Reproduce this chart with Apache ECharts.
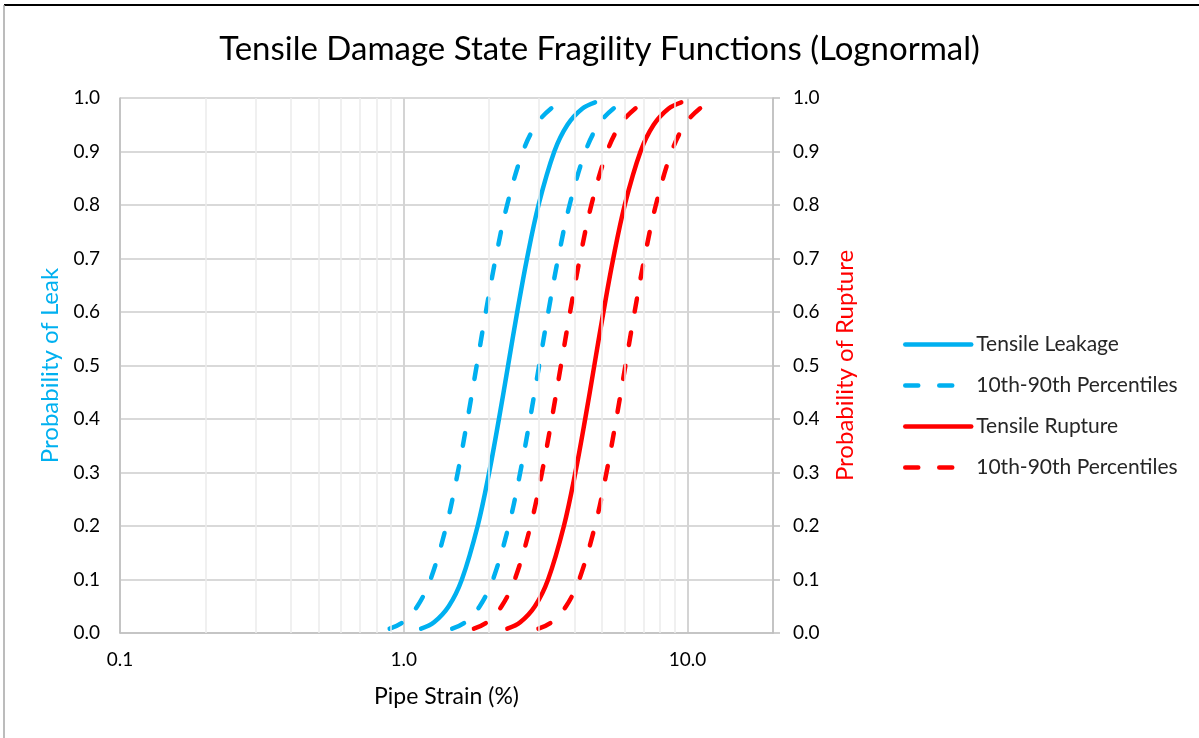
<!DOCTYPE html>
<html>
<head>
<meta charset="utf-8">
<title>Tensile Damage State Fragility Functions</title>
<script src="https://cdn.jsdelivr.net/npm/echarts@6/dist/echarts.min.js"></script>
<style>
  html, body { margin: 0; padding: 0; background: #ffffff; }
  #chart { width: 1199px; height: 738px; }
</style>
</head>
<body>
<div id="chart"></div>
<script>
// Cumulative probability levels shared by every curve
const probability = [0.008, 0.02, 0.05, 0.1, 0.2, 0.3, 0.4, 0.5, 0.6, 0.7, 0.8, 0.9, 0.95, 0.98, 0.992];

// Pipe strain (%) at each probability level
const leakLower     = [0.892, 0.991, 1.116, 1.242, 1.412, 1.550, 1.678, 1.807, 1.946, 2.107, 2.313, 2.629, 2.926, 3.296, 3.659];
const leakMedian    = [1.151, 1.278, 1.440, 1.602, 1.821, 1.999, 2.164, 2.331, 2.510, 2.718, 2.984, 3.392, 3.774, 4.252, 4.720];
const leakUpper     = [1.481, 1.644, 1.852, 2.061, 2.343, 2.572, 2.785, 2.999, 3.230, 3.497, 3.839, 4.364, 4.855, 5.470, 6.073];
const ruptureLower  = [1.767, 1.962, 2.211, 2.460, 2.796, 3.069, 3.323, 3.579, 3.855, 4.173, 4.581, 5.207, 5.794, 6.528, 7.247];
const ruptureMedian = [2.317, 2.572, 2.898, 3.225, 3.666, 4.024, 4.357, 4.692, 5.053, 5.471, 6.006, 6.827, 7.596, 8.558, 9.501];
const ruptureUpper  = [2.983, 3.311, 3.731, 4.151, 4.719, 5.180, 5.608, 6.040, 6.505, 7.043, 7.731, 8.788, 9.779, 11.02, 12.23];

// Log-axis minor gridline positions
const minorTicks = [0.2, 0.3, 0.4, 0.5, 0.6, 0.7, 0.8, 0.9, 2, 3, 4, 5, 6, 7, 8, 9];

// Legend entries and their display text
const legendText = {
  leak: 'Tensile Leakage',
  leakBand: '10th-90th Percentiles',
  rupture: 'Tensile Rupture',
  ruptureBand: '10th-90th Percentiles'
};

const BLUE = '#00B0F0';
const RED = '#FF0000';
const FONT = 'Lato, "Open Sans", sans-serif';
const LINE_W = 4.5;
const DASH = [13, 21];

function pairs(strain) {
  return strain.map((s, i) => [s, probability[i]]);
}

function curve(name, strain, color, dashed, yAxisIndex) {
  return {
    name: name,
    type: 'line',
    yAxisIndex: yAxisIndex,
    data: pairs(strain),
    smooth: 0.35,
    symbol: 'none',
    z: 3,
    lineStyle: {
      color: color,
      width: LINE_W,
      type: dashed ? DASH : 'solid',
      cap: 'round',
      join: 'round'
    },
    itemStyle: { color: color },
    emphasis: { disabled: true }
  };
}

const tickLabel = {
  fontFamily: FONT,
  fontSize: 19,
  color: '#000000',
  formatter: v => Number(v).toFixed(1)
};

const chart = echarts.init(document.getElementById('chart'), null, { renderer: 'canvas' });

const option = {
  backgroundColor: '#ffffff',
  animation: false,
  textStyle: { fontFamily: FONT },
  title: {
    text: 'Tensile Damage State Fragility Functions (Lognormal)',
    left: 'center',
    top: 28,
    textStyle: { fontFamily: FONT, fontSize: 33, fontWeight: 'normal', color: '#000000' }
  },
  grid: { left: 120, right: 426, top: 98, bottom: 105, containLabel: false },
  legend: {
    orient: 'vertical',
    left: 903,
    top: 334,
    itemWidth: 66,
    itemHeight: 16,
    itemGap: 20,
    padding: 0,
    data: ['leak', 'leakBand', 'rupture', 'ruptureBand'],
    formatter: name => legendText[name],
    itemStyle: { opacity: 0 },
    lineStyle: { width: LINE_W, cap: 'round' },
    textStyle: { fontFamily: FONT, fontSize: 21, color: '#262626', padding: [0, 0, 0, 0] },
    selectedMode: false
  },
  xAxis: {
    type: 'log',
    logBase: 10,
    min: 0.1,
    max: 20,
    name: 'Pipe Strain (%)',
    nameLocation: 'middle',
    nameGap: 52,
    nameTextStyle: { fontFamily: FONT, fontSize: 23, color: '#000000' },
    axisLine: { show: true, lineStyle: { color: '#bfbfbf', width: 1.5 } },
    axisTick: { show: false },
    axisLabel: Object.assign({ margin: 17, showMaxLabel: false }, tickLabel),
    splitLine: { show: true, lineStyle: { color: '#d4d4d4', width: 2 } },
    minorTick: { show: false },
    minorSplitLine: { show: false }
  },
  yAxis: [
    {
      type: 'value',
      min: 0,
      max: 1,
      interval: 0.1,
      position: 'left',
      name: 'Probability of Leak',
      nameLocation: 'middle',
      nameGap: 57,
      nameTextStyle: { fontFamily: FONT, fontSize: 24, color: BLUE },
      axisLine: { show: true, lineStyle: { color: '#bfbfbf', width: 1.5 } },
      axisTick: { show: false },
      axisLabel: Object.assign({ margin: 20 }, tickLabel),
      splitLine: { show: true, lineStyle: { color: '#d9d9d9', width: 2 } }
    },
    {
      type: 'value',
      min: 0,
      max: 1,
      interval: 0.1,
      position: 'right',
      name: 'Probability of Rupture',
      nameLocation: 'middle',
      nameGap: 60,
      nameRotate: 90,
      nameTextStyle: { fontFamily: FONT, fontSize: 24, color: RED },
      axisLine: { show: true, lineStyle: { color: '#bfbfbf', width: 1.5 } },
      axisTick: { show: true, inside: false, length: 7, lineStyle: { color: '#bfbfbf', width: 1.5 } },
      axisLabel: Object.assign({ margin: 20 }, tickLabel),
      splitLine: { show: false }
    }
  ],
  graphic: [
    { type: 'line', shape: { x1: 4, y1: 5, x2: 1199, y2: 5 }, style: { stroke: '#000000', lineWidth: 2 }, silent: true },
    { type: 'line', shape: { x1: 4, y1: 5, x2: 4, y2: 738 }, style: { stroke: '#a6a6a6', lineWidth: 1.5 }, silent: true }
  ],
  series: [
    {
      name: 'minorGrid',
      type: 'line',
      data: [],
      z: 1,
      silent: true,
      markLine: {
        silent: true,
        symbol: ['none', 'none'],
        label: { show: false },
        lineStyle: { color: '#ebebeb', width: 1.5, type: 'solid' },
        emphasis: { disabled: true },
        animation: false,
        data: minorTicks.map(v => ({ xAxis: v }))
      }
    },
    curve('leak', leakMedian, BLUE, false, 0),
    curve('leakBand', leakLower, BLUE, true, 0),
    curve('leakBand', leakUpper, BLUE, true, 0),
    curve('rupture', ruptureMedian, RED, false, 1),
    curve('ruptureBand', ruptureLower, RED, true, 1),
    curve('ruptureBand', ruptureUpper, RED, true, 1)
  ]
};

chart.setOption(option);
</script>
</body>
</html>
